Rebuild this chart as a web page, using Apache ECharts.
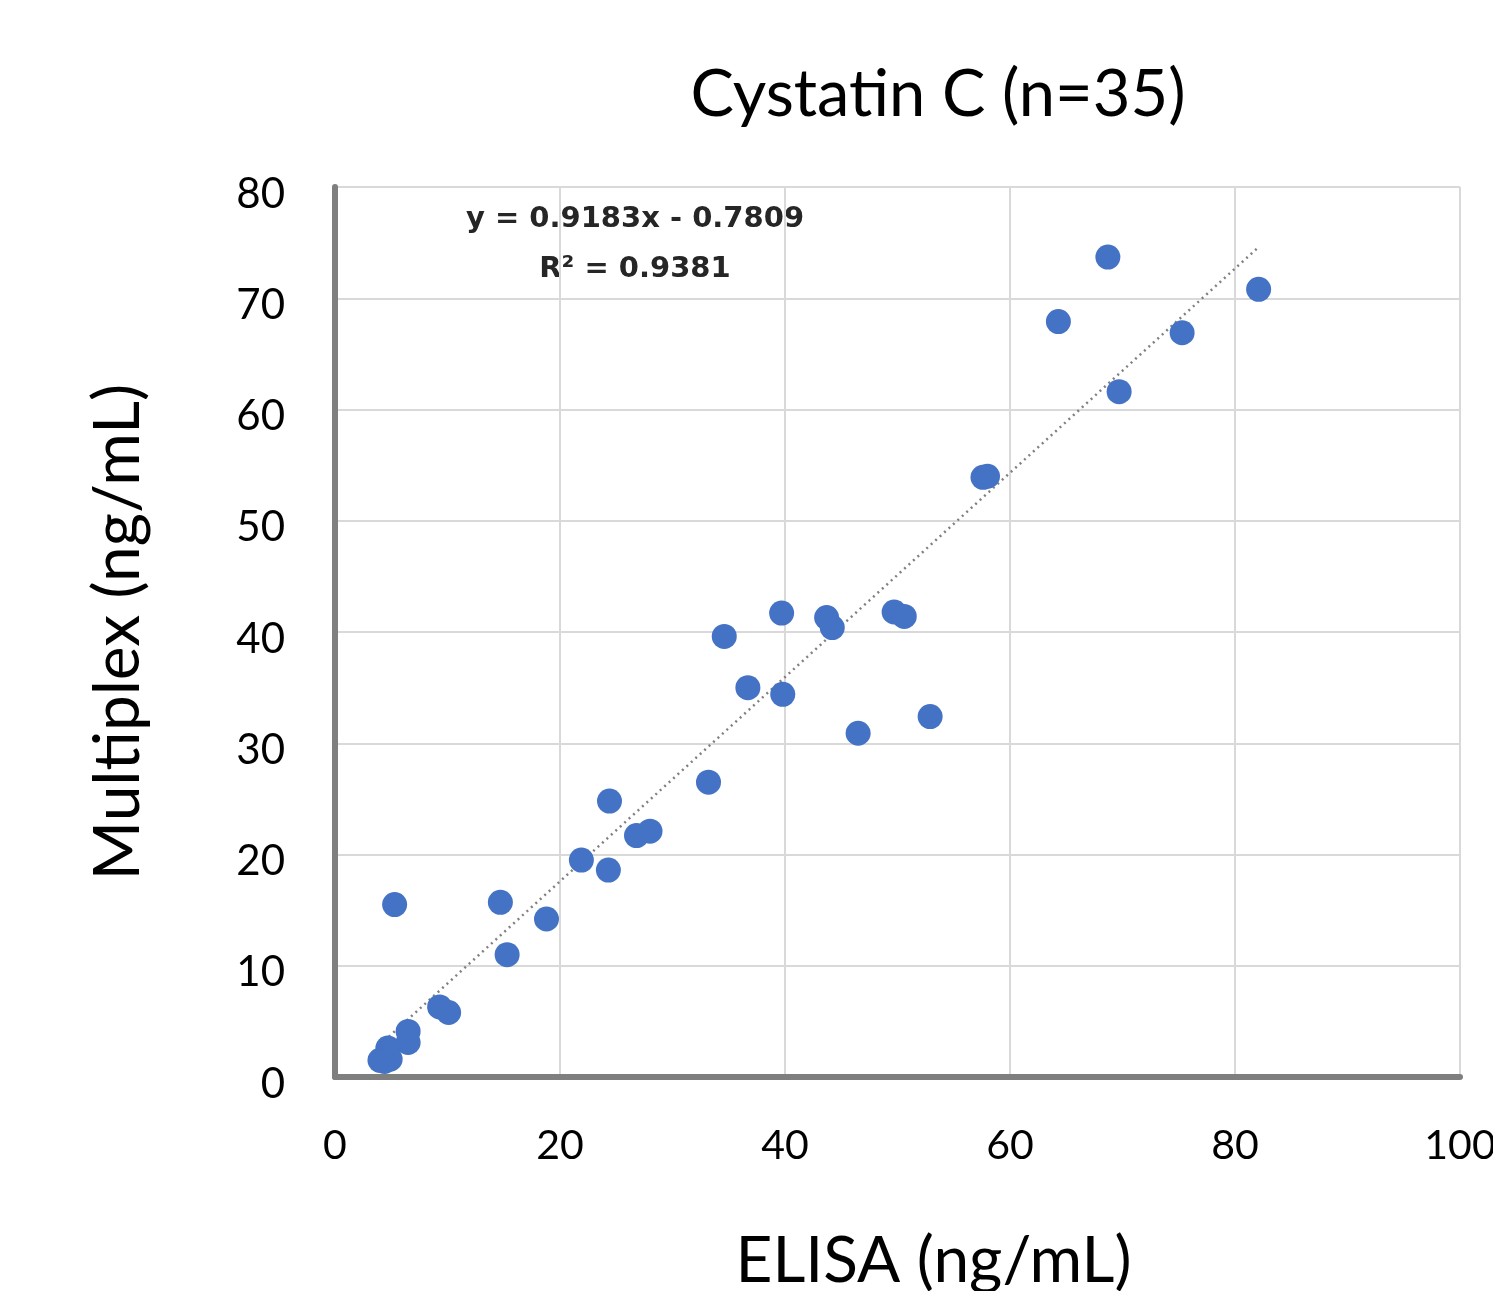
<!DOCTYPE html>
<html>
<head>
<meta charset="utf-8">
<script src="https://cdn.jsdelivr.net/npm/echarts@6/dist/echarts.min.js"></script>
<style>
  html, body { margin: 0; padding: 0; background: #fff; }
  #chart { width: 1493px; height: 1291px; }
</style>
</head>
<body>
<div id="chart"></div>
<script>
  // ELISA (x) vs Multiplex (y)
  var elisa = [68.7, 82.1, 64.3, 75.3, 69.7, 57.6, 58.0, 39.7, 34.6, 43.7,
               44.2, 49.7, 50.6, 36.7, 39.8, 46.5, 52.9, 33.2, 24.4, 26.8,
               28.0, 21.9, 24.3, 14.7, 5.3, 18.8, 15.3, 9.3, 10.1, 6.5,
               6.5, 4.7, 4.0, 4.9, 4.4];
  var multiplex = [73.7, 70.8, 67.9, 66.9, 61.6, 53.9, 54.0, 41.7, 39.6, 41.3,
                   40.4, 41.8, 41.4, 35.0, 34.4, 30.9, 32.4, 26.5, 24.8, 21.7,
                   22.1, 19.5, 18.6, 15.7, 15.5, 14.2, 11.0, 6.3, 5.8, 4.1,
                   3.1, 2.6, 1.5, 1.6, 1.4];
  // end points of the dotted trend line
  var trendX = [4.0, 82.1];
  var trendY = [2.9, 74.6];
  var xTicks = [0, 20, 40, 60, 80, 100];
  var yTicks = [0, 10, 20, 30, 40, 50, 60, 70, 80];
  var equation = ['y = 0.9183x - 0.7809', 'R² = 0.9381'];

  var points = elisa.map(function (x, i) { return [x, multiplex[i]]; });
  var trend = trendX.map(function (x, i) { return [x, trendY[i]]; });

  var myChart = echarts.init(document.getElementById('chart'));
  var font = 'Lato, "Open Sans", sans-serif';
  var options = {
    backgroundColor: '#fff',
    animation: false,
    title: {
      text: 'Cystatin C (n=35)',
      left: 933,
      top: 58,
      textAlign: 'center',
      textStyle: { fontFamily: font, fontWeight: 'normal', fontSize: 65, color: '#000' }
    },
    grid: { left: 335, right: 33, top: 187, bottom: 214, containLabel: false, outerBoundsMode: 'none' },
    xAxis: {
      type: 'value',
      min: 0, max: 100, interval: 20,
      name: 'ELISA (ng/mL)',
      nameLocation: 'middle',
      nameGap: 152,
      nameTextStyle: { fontFamily: font, fontSize: 64, color: '#000', padding: [0, 0, 0, 72] },
      axisLine: { show: true, onZero: false, lineStyle: { color: '#7f7f7f', width: 6 } },
      axisTick: { show: false },
      axisLabel: {
        fontFamily: font, fontSize: 41, color: '#000', margin: 48,
        formatter: function (v) { return xTicks.indexOf(v) >= 0 ? String(v) : ''; }
      },
      splitLine: { show: true, lineStyle: { color: '#d9d9d9', width: 2 } }
    },
    yAxis: {
      type: 'value',
      min: 0, max: 80, interval: 10,
      name: 'Multiplex (ng/mL)',
      nameLocation: 'middle',
      nameGap: 185,
      nameTextStyle: { fontFamily: font, fontSize: 64, color: '#000' },
      axisLine: { show: true, onZero: false, lineStyle: { color: '#7f7f7f', width: 6 } },
      axisTick: { show: false },
      axisLabel: {
        color: '#000', margin: 50,
        formatter: function (v) { return yTicks.indexOf(v) >= 0 ? '{t|' + v + '}' : ''; },
        rich: {
          t: { fontFamily: font, fontSize: 42, color: '#000', padding: [14, 0, 0, 0] }
        }
      },
      splitLine: { show: true, lineStyle: { color: '#d9d9d9', width: 2 } }
    },
    series: [
      {
        type: 'line',
        data: trend,
        symbol: 'none',
        z: 1,
        lineStyle: { color: '#808080', width: 2.5, type: [2, 4] }
      },
      {
        type: 'scatter',
        data: points,
        symbolSize: 25,
        z: 3,
        itemStyle: { color: '#4472c4', opacity: 1 }
      }
    ],
    graphic: [
      {
        type: 'text',
        x: 635, y: 194,
        style: {
          text: equation[0] + '\n' + equation[1],
          align: 'center',
          verticalAlign: 'top',
          fontFamily: '"DejaVu Sans", sans-serif',
          fontWeight: 'bold',
          fontSize: 29,
          lineHeight: 50,
          fill: '#262626'
        }
      }
    ]
  };
  myChart.setOption(options);
  window.addEventListener('resize', myChart.resize);
</script>
</body>
</html>
